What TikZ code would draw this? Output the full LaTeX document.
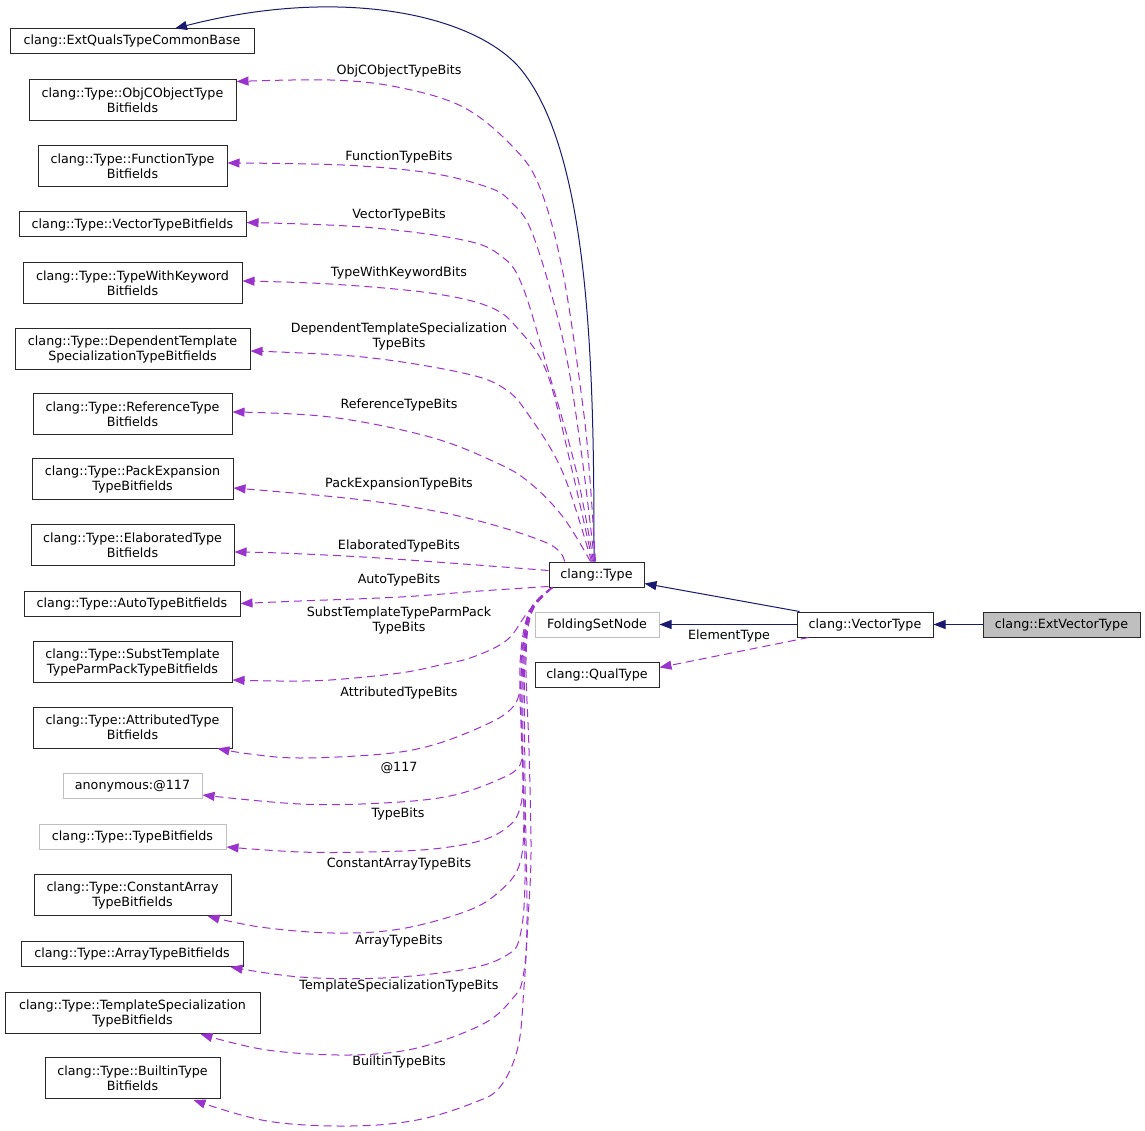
\documentclass[tikz,border=0pt]{standalone}
\usepackage{fontspec}
\setmainfont{DejaVu Sans}
\usetikzlibrary{arrows.meta,calc}
\definecolor{navyc}{RGB}{25,25,112}
\definecolor{orchidc}{RGB}{154,50,205}
\definecolor{greyc}{RGB}{191,191,191}
\definecolor{boxc}{RGB}{40,40,40}
\newcommand\dvs{\fontsize{12.7}{15}\selectfont}
\begin{document}
\begin{tikzpicture}[x=1pt,y=-1pt,
  box/.style={draw=boxc, line width=1pt, rectangle, inner sep=0pt, align=center, font=\dvs, minimum height=25pt},
  boxtwo/.style={box, minimum height=41pt},
  greybox/.style={box, draw=greyc},
  inh/.style={draw=navyc, line width=1pt, -{Triangle[length=12pt,width=9pt]}},
  uses/.style={draw=orchidc, line width=1pt, dash pattern=on 8pt off 5pt, -{Triangle[length=12pt,width=9pt]}},
  lab/.style={font=\dvs, inner sep=0pt, align=center}]
\path[fill=white,use as bounding box] (0,0) rectangle (1145,1131);

% left column
\node[box, minimum width=244pt] (ext) at (132,41.5) {clang::ExtQualsTypeCommonBase};
\node[boxtwo, minimum width=207pt] (objc) at (132.5,100.5) {clang::Type::ObjCObjectType\\Bitfields};
\node[boxtwo, minimum width=189pt] (func) at (132.5,166) {clang::Type::FunctionType\\Bitfields};
\node[box, minimum width=227pt] (vect) at (132.5,224.5) {clang::Type::VectorTypeBitfields};
\node[boxtwo, minimum width=219pt] (twk) at (132.5,283) {clang::Type::TypeWithKeyword\\Bitfields};
\node[boxtwo, minimum width=235pt] (dts) at (132.5,349) {clang::Type::DependentTemplate\\SpecializationTypeBitfields};
\node[boxtwo, minimum width=199pt] (ref) at (132.5,414) {clang::Type::ReferenceType\\Bitfields};
\node[boxtwo, minimum width=201pt] (pack) at (132.5,479) {clang::Type::PackExpansion\\TypeBitfields};
\node[boxtwo, minimum width=203pt] (elab) at (132.5,545) {clang::Type::ElaboratedType\\Bitfields};
\node[box, minimum width=216pt] (auto) at (132,603.5) {clang::Type::AutoTypeBitfields};
\node[boxtwo, minimum width=199pt] (subst) at (132.5,662) {clang::Type::SubstTemplate\\TypeParmPackTypeBitfields};
\node[boxtwo, minimum width=199pt] (attr) at (132.5,727.5) {clang::Type::AttributedType\\Bitfields};
\node[greybox, minimum width=139pt] (anon) at (132.5,786) {anonymous:@117};
\node[greybox, minimum width=187pt] (tbf) at (132.5,836.5) {clang::Type::TypeBitfields};
\node[boxtwo, minimum width=197pt] (carr) at (132.5,895) {clang::Type::ConstantArray\\TypeBitfields};
\node[box, minimum width=222pt] (arr) at (132,954) {clang::Type::ArrayTypeBitfields};
\node[boxtwo, minimum width=255pt] (tspec) at (132.5,1013) {clang::Type::TemplateSpecialization\\TypeBitfields};
\node[boxtwo, minimum width=175pt] (builtin) at (132.5,1078) {clang::Type::BuiltinType\\Bitfields};

% right part
\node[box, minimum width=95pt] (type) at (596.5,574.5) {clang::Type};
\node[greybox, minimum width=124pt] (fold) at (597,624.5) {FoldingSetNode};
\node[box, minimum width=124pt] (qual) at (597,674.5) {clang::QualType};
\node[box, minimum width=136pt] (vec) at (865,624.5) {clang::VectorType};
\node[box, minimum width=157pt, fill=greyc] (extv) at (1061.5,624.5) {clang::ExtVectorType};

% helper coordinates
\coordinate (lS) at ($(type.south west)+(4,0)$);

% inheritance edges
\draw[inh] (extv.west) -- (vec.east);
\draw[inh] (vec.west) -- (fold.east);
\draw[inh] ($(vec.north west)+(3,0)$) -- ($(type.south east)+(0,-4)$);
\draw[inh] ($(type.north)+(-2.5,0)$) .. controls (594,380) and (592,150) .. (518,66)
  .. controls (470,14) and (340,-14) .. ($(ext.north)+(43,0)$);

% usage edges
\draw[uses] ($(vec.south west)+(12,0)$) -- ($(qual.east)+(0,-7)$);
\node[lab] (lElem) at (729,636) {ElementType};

\draw[uses] plot[smooth, tension=0.6] coordinates {($(type.north)+(-1,0)$) (590,480) (583,407) (563,273) (540,188) (513,147) (463,107) (397,87) (330,80) ($(objc.north east)+(0,2)$)};
\node[lab] (l1) at (399,71) {ObjCObjectTypeBits};

\draw[uses] plot[smooth, tension=0.6] coordinates {($(type.north)+(-2,0)$) (581,450) (563,340) (533,235) (510,201) (487,187) (430,173) (343,165) ($(func.east)+(0,-3)$)};
\node[lab] (l2) at (399,157) {FunctionTypeBits};

\draw[uses] plot[smooth, tension=0.6] coordinates {($(type.north)+(-3,0)$) (576,470) (548,370) (522,285) (501,256) (463,240) (363,227) ($(vect.east)+(0,-2)$)};
\node[lab] (l3) at (399,215) {VectorTypeBits};

\draw[uses] plot[smooth, tension=0.6] coordinates {($(type.north)+(-4,0)$) (572,470) (547,373) (519,330) (490,307) (430,293) (330,284) ($(twk.east)+(0,-2)$)};
\node[lab] (l4) at (399,273) {TypeWithKeywordBits};

\draw[uses] plot[smooth, tension=0.6] coordinates {($(type.north)+(-5,0)$) (563,473) (530,417) (505,389) (463,373) (363,357) ($(dts.east)+(0,2)$)};
\node[lab] (l5) at (399,336.5) {DependentTemplateSpecialization\\TypeBits};

\draw[uses] plot[smooth, tension=0.6] coordinates {($(type.north)+(-6,0)$) (563,517) (530,483) (497,463) (430,437) (330,417) ($(ref.east)+(0,-2)$)};
\node[lab] (l6) at (399,405) {ReferenceTypeBits};

\draw[uses] plot[smooth, tension=0.6] coordinates {($(type.north west)+(16,0)$) (547,543) (463,517) (363,500) ($(pack.east)+(0,9)$)};
\node[lab] (l7) at (399,484) {PackExpansionTypeBits};

\draw[uses] plot[smooth, tension=0.6] coordinates {($(type.west)+(0,-4)$) (450,563) (363,557) (280,553) ($(elab.east)+(0,7)$)};
\node[lab] (l8) at (399,546) {ElaboratedTypeBits};

\draw[uses] plot[smooth, tension=0.6] coordinates {($(type.south west)+(0,-1)$) (480,591) (400,597) (300,601) (auto.east)};
\node[lab] (l9) at (399,580) {AutoTypeBits};

\draw[uses] plot[smooth, tension=0.6] coordinates {(lS) (528,612) (507,640) (473,657) (440,665) (400,673) (330,680) (280,681) ($(subst.south east)+(0,-3)$)};
\node[lab] (l10) at (399,620.5) {SubstTemplateTypeParmPack\\TypeBits};

\draw[uses] plot[smooth, tension=0.6] coordinates {(lS) (531,610) (522,650) (520,690) (510,710) (483,726) (433,745) (383,754) (300,758) (250,754) ($(attr.south east)+(-15,0)$)};
\node[lab] (l11) at (399,693) {AttributedTypeBits};

\draw[uses] plot[smooth, tension=0.6] coordinates {(lS) (530,610) (521,650) (520,700) (522,740) (520,765) (500,779) (450,796) (383,803) (300,804) ($(anon.east)+(0,9)$)};
\node[lab] (l12) at (399,768) {@117};

\draw[uses] plot[smooth, tension=0.6] coordinates {(lS) (530,610) (522,660) (521,720) (523,780) (520,808) (510,825) (483,840) (433,849) (367,852) (300,852) ($(tbf.east)+(0,10.5)$)};
\node[lab] (l13) at (398,814) {TypeBits};

\draw[uses] plot[smooth, tension=0.6] coordinates {(lS) (531,610) (523,660) (522,740) (524,810) (520,863) (500,891) (467,911) (400,929) (333,933) (260,927) ($(carr.south east)+(-24,0)$)};
\node[lab] (l14) at (399,864) {ConstantArrayTypeBits};

\draw[uses] plot[smooth, tension=0.6] coordinates {(lS) (531,610) (524,660) (523,760) (525,880) (520,936) (507,955) (467,969) (383,978) (300,977) ($(arr.south east)+(-13,0)$)};
\node[lab] (l15) at (399,941) {ArrayTypeBits};

\draw[uses] plot[smooth, tension=0.6] coordinates {(lS) (532,610) (525,660) (525,780) (527,920) (523,977) (513,998) (483,1024) (417,1048) (350,1055) (267,1050) ($(tspec.south east)+(-60,0)$)};
\node[lab] (l16) at (399,986) {TemplateSpecializationTypeBits};

\draw[uses] plot[smooth, tension=0.6] coordinates {(lS) (532,612) (526,660) (529,750) (531,853) (528,920) (524,987) (518,1047) (500,1087) (473,1103) (417,1120) (350,1126) (267,1121) ($(builtin.south east)+(-27,1)$)};
\node[lab] (l17) at (399,1062) {BuiltinTypeBits};
\end{tikzpicture}
\end{document}
